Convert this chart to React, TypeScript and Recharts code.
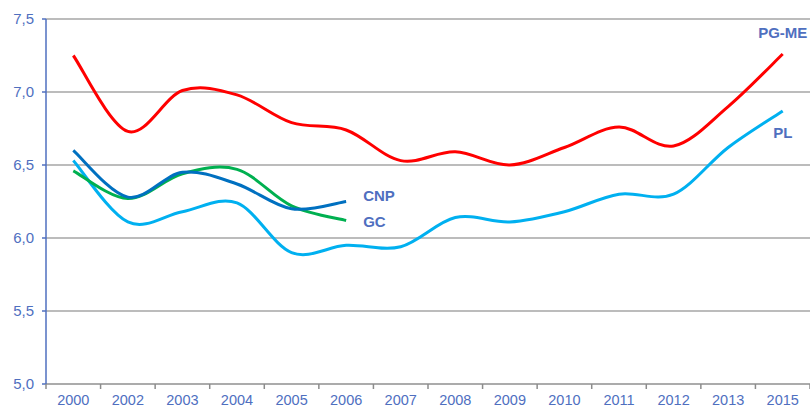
import { LineChart, Line, XAxis, YAxis, CartesianGrid, LabelList } from 'recharts';

const years = ['2000', '2002', '2003', '2004', '2005', '2006', '2007', '2008', '2009', '2010', '2011', '2012', '2013', '2015'];
const pgMe = [7.25, 6.73, 7.01, 6.98, 6.79, 6.74, 6.53, 6.59, 6.5, 6.62, 6.76, 6.63, 6.9, 7.26];
const pl = [6.53, 6.11, 6.18, 6.24, 5.9, 5.95, 5.94, 6.14, 6.11, 6.18, 6.3, 6.3, 6.62, 6.87];
const cnp = [6.6, 6.28, 6.45, 6.37, 6.2, 6.25];
const gc = [6.46, 6.27, 6.44, 6.47, 6.22, 6.12];
const yTicks = [5.0, 5.5, 6.0, 6.5, 7.0, 7.5];

const data = years.map((year, i) => ({
  year,
  pgMe: pgMe[i],
  pl: pl[i],
  cnp: cnp[i] ?? null,
  gc: gc[i] ?? null,
}));

const TEXT = '#4f6fbf';
const FONT = 'Arial, "Liberation Sans", sans-serif';

// smooth line like Excel (catmull-rom through the points)
const smooth = (context: any) => {
  let pts: number[][] = [];
  return {
    areaStart() {},
    areaEnd() {},
    lineStart() {
      pts = [];
    },
    point(x: number, y: number) {
      pts.push([+x, +y]);
    },
    lineEnd() {
      if (!pts.length) return;
      context.moveTo(pts[0][0], pts[0][1]);
      for (let i = 0; i < pts.length - 1; i++) {
        const p0 = pts[i - 1] || pts[i];
        const p1 = pts[i];
        const p2 = pts[i + 1];
        const p3 = pts[i + 2] || p2;
        context.bezierCurveTo(
          p1[0] + (p2[0] - p0[0]) / 6,
          p1[1] + (p2[1] - p0[1]) / 6,
          p2[0] - (p3[0] - p1[0]) / 6,
          p2[1] - (p3[1] - p1[1]) / 6,
          p2[0],
          p2[1]
        );
      }
    },
  };
};

const endLabel = (name: string, last: number, dx: number, dy: number, anchor: string) => (props: any) => {
  if (props.index !== last) return null;
  return (
    <text
      x={props.x + dx}
      y={props.y + dy}
      textAnchor={anchor}
      dominantBaseline="central"
      fill={TEXT}
      fontSize={15}
      fontWeight="bold"
      fontFamily={FONT}
    >
      {name}
    </text>
  );
};

const XTick = (props: any) => {
  const { x, payload, index } = props;
  const half = 764 / years.length / 2;
  return (
    <g>
      <line x1={x - half} x2={x - half} y1={384} y2={389} stroke="#8c8c8c" strokeWidth={1.5} />
      {index === years.length - 1 && (
        <line x1={x + half} x2={x + half} y1={384} y2={389} stroke="#8c8c8c" strokeWidth={1.5} />
      )}
      <text x={x} y={404.5} textAnchor="middle" fill={TEXT} fontSize={14.5} fontFamily={FONT}>
        {payload.value}
      </text>
    </g>
  );
};

const formatY = (v: number) => v.toFixed(1).replace('.', ',');

export default function App() {
  return (
    <div style={{ position: 'absolute', left: 0, top: 0 }}>
      <LineChart width={810} height={408} data={data} margin={{ top: 19, right: 0, bottom: 0, left: 0 }}>
        <CartesianGrid vertical={false} stroke="#a6a6a6" strokeWidth={1.5} />
        <XAxis
          dataKey="year"
          scale="band"
          height={24}
          stroke="#a6a6a6"
          strokeWidth={1.5}
          tickLine={false}
          tick={<XTick />}
          interval={0}
        />
        <YAxis
          width={46}
          domain={[5, 7.5]}
          ticks={yTicks}
          tickFormatter={formatY}
          stroke={TEXT}
          strokeWidth={1.5}
          tickSize={4}
          tickMargin={8}
          tick={{ fill: TEXT, fontSize: 15, fontFamily: FONT }}
        />
        <Line type={smooth as any} dataKey="pgMe" stroke="#ff0000" strokeWidth={3} dot={false} isAnimationActive={false}>
          <LabelList content={endLabel('PG-ME', years.length - 1, 0, -22, 'middle')} />
        </Line>
        <Line type={smooth as any} dataKey="pl" stroke="#00b0f0" strokeWidth={3} dot={false} isAnimationActive={false}>
          <LabelList content={endLabel('PL', years.length - 1, 0, 22, 'middle')} />
        </Line>
        <Line type={smooth as any} dataKey="gc" stroke="#00b050" strokeWidth={3} dot={false} isAnimationActive={false}>
          <LabelList content={endLabel('GC', gc.length - 1, 17, 1, 'start')} />
        </Line>
        <Line type={smooth as any} dataKey="cnp" stroke="#0070c0" strokeWidth={3} dot={false} isAnimationActive={false}>
          <LabelList content={endLabel('CNP', cnp.length - 1, 17, -6, 'start')} />
        </Line>
      </LineChart>
    </div>
  );
}
